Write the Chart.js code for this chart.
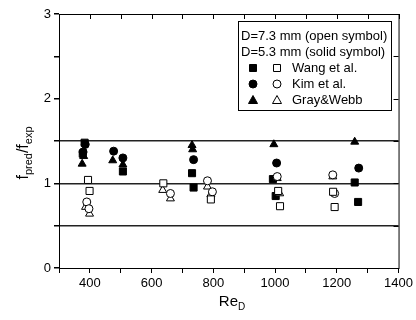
<!DOCTYPE html>
<html>
<head>
<meta charset="utf-8">
<script src="https://cdn.jsdelivr.net/npm/chart.js@4.4.1/dist/chart.umd.min.js"></script>
<style>
  html, body { margin: 0; padding: 0; background: #fff; }
  #wrap { width: 416px; height: 320px; }
</style>
</head>
<body>
<div id="wrap"><canvas id="chart" width="416" height="320"></canvas></div>
<script>
// Re_D vs f_pred/f_exp
var wangOpen = [[394, 1.04], [399, 0.91], [638, 1.00], [792, 0.81], [1010, 0.91], [1016, 0.73], [1188, 0.90], [1193, 0.72]];
var kimOpen = [[390, 0.78], [397, 0.70], [661, 0.88], [781, 1.03], [797, 0.90], [1007, 1.08], [1187, 1.10], [1193, 0.88]];
var grayOpen = [[386, 0.72], [399, 0.64], [636, 0.92], [661, 0.82], [781, 0.96], [792, 0.87], [1007, 1.06], [1015, 0.88], [1187, 1.08]];
var wangSolid = [[383, 1.48], [377, 1.35], [507, 1.14], [731, 1.12], [736, 0.95], [993, 1.05], [1002, 0.85], [1258, 1.01], [1269, 0.78]];
var kimSolid = [[385, 1.46], [378, 1.37], [477, 1.38], [507, 1.30], [736, 1.28], [1005, 1.24], [1271, 1.18]];
var graySolid = [[375, 1.23], [380, 1.32], [474, 1.27], [507, 1.22], [731, 1.45], [733, 1.40], [996, 1.46], [1258, 1.49]];

var refLines = [0.5, 1, 1.5];
var legendHead = ["D=7.3 mm (open symbol)", "D=5.3 mm (solid symbol)"];
var legendNames = ["Wang et al.", "Kim et al.", "Gray&Webb"];
var legendStyles = ["rect", "circle", "triangle"];

var FONT = "'Liberation Sans', Arial, sans-serif";

function pts(arr) {
    return arr.map(function(p) { return { x: p[0], y: p[1] }; });
}

function series(label, arr, style, filled) {
    var r = style === "rect" ? 5 : (style === "triangle" ? 4.6 : 4);
    return {
        label: label,
        data: pts(arr),
        pointStyle: style,
        pointRadius: r,
        pointHoverRadius: r,
        pointBorderWidth: 1,
        pointBorderColor: "#000",
        pointBackgroundColor: filled ? "#000" : "#fff",
        showLine: false
    };
}

function marker(ctx, style, x, y, filled) {
    ctx.save();
    ctx.lineWidth = 1;
    ctx.strokeStyle = "#000";
    ctx.fillStyle = filled ? "#000" : "#fff";
    ctx.beginPath();
    if (style === "rect") {
        ctx.rect(x - 3.5, y - 3.5, 7, 7);
    } else if (style === "circle") {
        ctx.arc(x, y, 4, 0, Math.PI * 2);
    } else {
        ctx.moveTo(x, y - 4.5);
        ctx.lineTo(x + 4.5, y + 3.5);
        ctx.lineTo(x - 4.5, y + 3.5);
        ctx.closePath();
    }
    ctx.fill();
    ctx.stroke();
    ctx.restore();
}

// text with a subscript, drawn left to right from x
function subText(ctx, parts, x, y) {
    parts.forEach(function(p) {
        ctx.font = p[2] + "px " + FONT;
        ctx.fillText(p[0], x, y + p[1]);
        x += ctx.measureText(p[0]).width;
    });
}
function subWidth(ctx, parts) {
    var w = 0;
    parts.forEach(function(p) {
        ctx.font = p[2] + "px " + FONT;
        w += ctx.measureText(p[0]).width;
    });
    return w;
}

var decor = {
    id: "decor",
    afterDraw: function(chart) {
        var ctx = chart.ctx, a = chart.chartArea;
        var xs = chart.scales.x, ys = chart.scales.y;
        ctx.save();
        // frame
        ctx.strokeStyle = "#000";
        ctx.lineWidth = 1;
        ctx.strokeRect(a.left + 0.5, a.top + 0.5, a.right - a.left, a.bottom - a.top);
        // inward ticks on top and right
        ctx.beginPath();
        xs.ticks.forEach(function(t) {
            var px = Math.round(xs.getPixelForValue(t.value)) + 0.5;
            ctx.moveTo(px, a.top);
            ctx.lineTo(px, a.top + 5);
        });
        ys.ticks.forEach(function(t) {
            var py = Math.round(ys.getPixelForValue(t.value)) + 0.5;
            ctx.moveTo(a.right, py);
            ctx.lineTo(a.right - 5, py);
        });
        ctx.stroke();

        // legend box
        var lx = 238, ly = 21, lw = 153, lh = 89;
        ctx.fillStyle = "#fff";
        ctx.fillRect(lx, ly, lw, lh);
        ctx.strokeRect(lx + 0.5, ly + 0.5, lw, lh);
        ctx.fillStyle = "#000";
        ctx.font = "13px " + FONT;
        ctx.textBaseline = "middle";
        ctx.textAlign = "left";
        ctx.fillText(legendHead[0], 241, 36);
        ctx.fillText(legendHead[1], 241, 52);
        legendNames.forEach(function(name, i) {
            var yy = 68 + i * 16;
            marker(ctx, legendStyles[i], 253, yy, true);
            marker(ctx, legendStyles[i], 277, yy, false);
            ctx.fillStyle = "#000";
            ctx.font = "13px " + FONT;
            ctx.fillText(name, 292, yy);
        });

        // axis titles with subscripts
        ctx.textBaseline = "alphabetic";
        var xt = [["Re", 0, 15], ["D", 4, 10]];
        subText(ctx, xt, 232 - subWidth(ctx, xt) / 2, 306);

        var yt = [["f", 0, 16], ["pred", 4, 11], ["/f", 0, 16], ["exp", 4, 11]];
        ctx.translate(28, 153);
        ctx.rotate(-Math.PI / 2);
        subText(ctx, yt, -subWidth(ctx, yt) / 2, 0);
        ctx.restore();
    }
};

new Chart(document.getElementById("chart"), {
    type: "scatter",
    data: {
        datasets: [
            series("Wang et al. (7.3)", wangOpen, "rect", false),
            series("Kim et al. (7.3)", kimOpen, "circle", false),
            series("Gray&Webb (7.3)", grayOpen, "triangle", false),
            series("Wang et al. (5.3)", wangSolid, "rect", true),
            series("Kim et al. (5.3)", kimSolid, "circle", true),
            series("Gray&Webb (5.3)", graySolid, "triangle", true)
        ]
    },
    options: {
        responsive: false,
        animation: false,
        layout: { padding: { left: 0, top: 14, right: 15, bottom: 0 } },
        plugins: {
            legend: { display: false },
            tooltip: { enabled: false }
        },
        scales: {
            x: {
                type: "linear",
                min: 300,
                max: 1400,
                afterFit: function(s) { s.height = 52; },
                border: { display: true, color: "#000", width: 1 },
                grid: { drawOnChartArea: false, tickLength: 5, tickColor: "#000" },
                ticks: {
                    stepSize: 100,
                    autoSkip: false,
                    maxRotation: 0,
                    padding: 3,
                    color: "#000",
                    font: { family: FONT, size: 13 },
                    callback: function(v) { return v % 200 === 0 ? String(v) : ""; }
                }
            },
            y: {
                min: 0,
                max: 3,
                afterFit: function(s) { s.width = 59; },
                border: { display: true, color: "#000", width: 1 },
                grid: {
                    tickLength: 5,
                    tickColor: "#000",
                    lineWidth: 1.5,
                    color: function(c) {
                        return c.tick && refLines.indexOf(c.tick.value) >= 0 ? "#222" : "rgba(0,0,0,0)";
                    }
                },
                ticks: {
                    stepSize: 0.5,
                    autoSkip: false,
                    padding: 3,
                    color: "#000",
                    font: { family: FONT, size: 13 },
                    callback: function(v) { return v % 1 === 0 ? String(v) : ""; }
                }
            }
        }
    },
    plugins: [decor]
});
</script>
</body>
</html>
